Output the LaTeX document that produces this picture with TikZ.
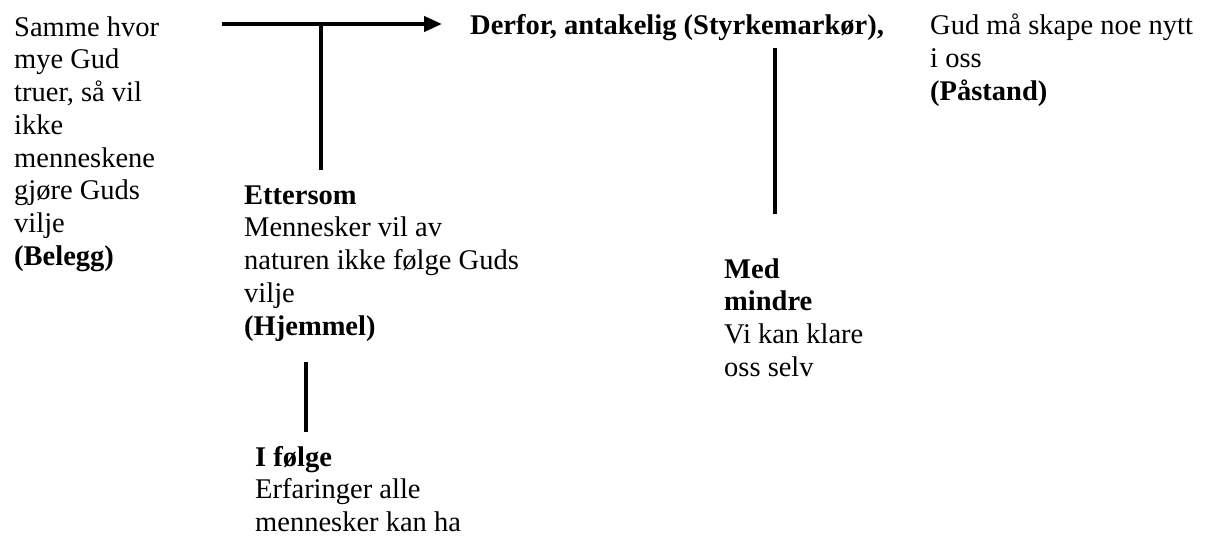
\documentclass[tikz,border=0pt]{standalone}
\usepackage{fontspec}
\setmainfont{Liberation Serif}
\usetikzlibrary{arrows.meta}

\tikzset{
  tekst/.style={anchor=base west, inner sep=0pt, align=left,
    font=\fontsize{28.5}{32.8}\selectfont},
  strek/.style={line width=4pt},
  pil/.style={strek, -{Triangle[length=18pt,width=15pt]}}
}

\begin{document}
\begin{tikzpicture}[x=1pt,y=-1pt]
  \useasboundingbox (0,0) rectangle (1205,540);

  % Belegg (plassert etter siste linje)
  \node[tekst] (belegg) at (14,265.6) {Samme hvor\\mye Gud\\truer, så vil\\ikke\\menneskene\\gjøre Guds\\vilje\\\textbf{(Belegg)}};

  % Styrkemarkør og påstand
  \node[tekst, font=\fontsize{28.5}{32.8}\selectfont\bfseries] (derfor) at (470,35) {Derfor, antakelig (Styrkemarkør),};
  \node[tekst] (paastand) at (930,100.6) {Gud må skape noe nytt\\i oss\\\textbf{(Påstand)}};

  % Hjemmel
  \node[tekst] (hjemmel) at (244,335.2) {\textbf{Ettersom}\\Mennesker vil av\\naturen ikke følge Guds\\vilje\\\textbf{(Hjemmel)}};

  % Ryggdekning
  \node[tekst] (ifolge) at (255,531.6) {\textbf{I følge}\\Erfaringer alle\\mennesker kan ha};

  % Gendrivelse
  \node[tekst] (medmindre) at (724,376.4) {\textbf{Med}\\\textbf{mindre}\\Vi kan klare\\oss selv};

  % piler og streker
  \coordinate (start) at (222,24);
  \coordinate (kryss) at (321,24);
  \coordinate (gtopp) at (775,48);
  \coordinate (rtopp) at (306,362);
  \draw[pil, shorten >=28pt] (start) -- (start -| derfor.west);
  \draw[strek] (kryss) -- (kryss |- 0,170);
  \draw[strek] (gtopp) -- (gtopp |- 0,214);
  \draw[strek] (rtopp) -- (rtopp |- 0,432);
\end{tikzpicture}
\end{document}
